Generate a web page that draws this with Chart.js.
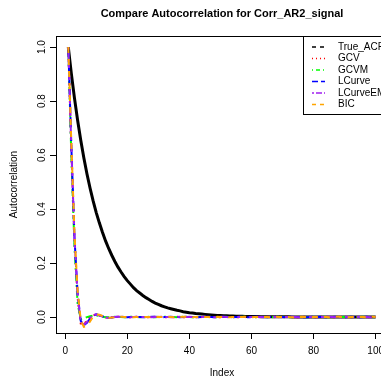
<!DOCTYPE html>
<html lang="en">
<head>
    <meta charset="UTF-8">
    <title>Compare Autocorrelation for Corr_AR2_signal</title>
    <script src="https://cdn.jsdelivr.net/npm/chart.js"></script>
    <style>
        html, body {
            margin: 0;
            padding: 0;
            overflow: hidden;
            background: #fff;
        }
        #acfChart {
            display: block;
        }
    </style>
</head>
<body>
    <canvas id="acfChart" width="395" height="382"></canvas>

    <script>
        // Values
        const lags = [
            1, 2, 3, 4, 5, 6, 7, 8, 9, 10, 11, 12, 13, 14, 15, 16, 17, 18, 19, 20,
            21, 22, 23, 24, 25, 26, 27, 28, 29, 30, 31, 32, 33, 34, 35, 36, 37, 38, 39, 40,
            41, 42, 43, 44, 45, 46, 47, 48, 49, 50, 51, 52, 53, 54, 55, 56, 57, 58, 59, 60,
            61, 62, 63, 64, 65, 66, 67, 68, 69, 70, 71, 72, 73, 74, 75, 76, 77, 78, 79, 80,
            81, 82, 83, 84, 85, 86, 87, 88, 89, 90, 91, 92, 93, 94, 95, 96, 97, 98, 99, 100
        ];

        const trueAcf = [
            1.000, 0.900, 0.810, 0.729, 0.656, 0.590, 0.531, 0.478, 0.430, 0.387,
            0.349, 0.314, 0.282, 0.254, 0.229, 0.206, 0.185, 0.167, 0.150, 0.135,
            0.122, 0.109, 0.098, 0.089, 0.080, 0.072, 0.065, 0.058, 0.052, 0.047,
            0.042, 0.038, 0.034, 0.031, 0.028, 0.025, 0.023, 0.020, 0.018, 0.016,
            0.015, 0.013, 0.012, 0.011, 0.010, 0.009, 0.008, 0.007, 0.006, 0.006,
            0.005, 0.005, 0.004, 0.004, 0.003, 0.003, 0.003, 0.002, 0.002, 0.002,
            0.002, 0.002, 0.001, 0.001, 0.001, 0.001, 0.001, 0.001, 0.001, 0.001,
            0.001, 0.001, 0.000, 0.000, 0.000, 0.000, 0.000, 0.000, 0.000, 0.000,
            0.000, 0.000, 0.000, 0.000, 0.000, 0.000, 0.000, 0.000, 0.000, 0.000,
            0.000, 0.000, 0.000, 0.000, 0.000, 0.000, 0.000, 0.000, 0.000, 0.000
        ];

        const gcv = [
            1.000, 0.612, 0.280, 0.072, -0.024, -0.028, -0.012, 0.001, 0.007, 0.009,
            0.006, 0.002, -0.001, -0.002, -0.001, 0.000, 0.001, 0.001, 0.000, -0.001,
            -0.001, 0.000, 0.001, 0.001, 0.000, 0.000, -0.001, 0.000, 0.001, 0.000,
            0.000, -0.001, -0.001, 0.000, 0.001, 0.001, 0.000, -0.001, 0.000, 0.000,
            0.001, 0.000, -0.001, 0.000, 0.000, 0.001, 0.001, 0.000, -0.001, -0.001,
            0.000, 0.000, 0.001, 0.000, 0.000, -0.001, 0.000, 0.001, 0.000, 0.000,
            0.000, -0.001, 0.000, 0.001, 0.001, 0.000, 0.000, -0.001, 0.000, 0.000,
            0.001, 0.000, 0.000, -0.001, -0.001, 0.000, 0.001, 0.000, 0.000, 0.000,
            -0.001, 0.000, 0.001, 0.001, 0.000, -0.001, 0.000, 0.000, 0.001, 0.000,
            0.000, -0.001, 0.000, 0.000, 0.001, 0.000, -0.001, 0.000, 0.000, 0.000
        ];

        const gcvm = [
            1.000, 0.588, 0.258, 0.050, -0.008, -0.006, 0.000, 0.003, 0.005, 0.006,
            0.004, 0.001, -0.001, -0.001, 0.000, 0.001, 0.000, 0.000, -0.001, 0.000,
            0.001, 0.001, 0.000, -0.001, 0.000, 0.000, 0.001, 0.000, -0.001, 0.000,
            0.000, 0.001, 0.001, 0.000, 0.000, -0.001, 0.000, 0.001, 0.000, 0.000,
            -0.001, -0.001, 0.000, 0.001, 0.000, 0.000, 0.001, 0.000, -0.001, 0.000,
            0.000, 0.001, 0.000, 0.000, -0.001, 0.000, 0.001, 0.001, 0.000, 0.000,
            -0.001, 0.000, 0.000, 0.001, 0.000, -0.001, 0.000, 0.000, 0.001, 0.001,
            0.000, -0.001, 0.000, 0.000, 0.001, 0.000, 0.000, -0.001, 0.000, 0.001,
            0.000, 0.000, 0.001, 0.000, -0.001, -0.001, 0.000, 0.001, 0.000, 0.000,
            0.001, 0.000, -0.001, 0.000, 0.000, 0.001, 0.000, 0.000, -0.001, 0.000
        ];

        const lcurve = [
            1.000, 0.626, 0.294, 0.086, -0.014, -0.030, -0.021, -0.006, 0.005, 0.010,
            0.007, 0.003, -0.001, -0.003, -0.002, 0.000, 0.001, 0.001, 0.000, -0.001,
            0.000, 0.001, 0.000, 0.000, -0.001, -0.001, 0.000, 0.001, 0.001, 0.000,
            -0.001, 0.000, 0.000, 0.001, 0.000, 0.000, -0.001, 0.000, 0.001, 0.000,
            0.000, 0.000, -0.001, 0.000, 0.001, 0.001, 0.000, -0.001, 0.000, 0.000,
            0.001, 0.000, 0.000, -0.001, 0.000, 0.000, 0.001, 0.000, -0.001, 0.000,
            0.001, 0.001, 0.000, 0.000, -0.001, 0.000, 0.000, 0.001, 0.000, 0.000,
            -0.001, 0.000, 0.001, 0.000, 0.000, 0.000, -0.001, -0.001, 0.000, 0.001,
            0.000, 0.001, 0.000, -0.001, 0.000, 0.000, 0.001, 0.000, 0.000, -0.001,
            0.000, 0.001, 0.000, 0.000, -0.001, 0.000, 0.001, 0.000, 0.000, 0.000
        ];

        const lcurveEm = [
            1.000, 0.620, 0.288, 0.081, -0.017, -0.029, -0.018, -0.004, 0.006, 0.010,
            0.006, 0.002, -0.002, -0.003, -0.001, 0.000, 0.001, 0.001, 0.000, 0.000,
            -0.001, 0.000, 0.001, 0.000, 0.000, 0.001, 0.000, -0.001, 0.000, 0.000,
            0.001, 0.000, 0.000, -0.001, -0.001, 0.000, 0.001, 0.000, 0.000, 0.001,
            0.000, -0.001, 0.000, 0.000, 0.001, 0.000, 0.000, -0.001, 0.000, 0.001,
            0.001, 0.000, -0.001, 0.000, 0.000, 0.001, 0.000, 0.000, -0.001, 0.000,
            0.000, 0.001, 0.000, -0.001, 0.000, 0.001, 0.001, 0.000, 0.000, -0.001,
            0.000, 0.000, 0.001, 0.000, -0.001, 0.000, 0.000, 0.001, 0.000, 0.000,
            -0.001, 0.000, 0.000, 0.001, 0.001, 0.000, -0.001, 0.000, 0.000, 0.001,
            0.000, 0.000, -0.001, 0.000, 0.001, 0.000, 0.000, -0.001, 0.000, 0.000
        ];

        const bic = [
            1.000, 0.638, 0.306, 0.098, -0.010, -0.036, -0.034, -0.016, 0.002, 0.010,
            0.009, 0.004, 0.000, -0.003, -0.002, -0.001, 0.001, 0.001, 0.000, 0.000,
            0.000, -0.001, 0.000, 0.001, 0.001, 0.000, 0.000, -0.001, 0.000, 0.001,
            0.000, 0.000, 0.001, 0.000, -0.001, 0.000, 0.000, 0.001, 0.001, 0.000,
            -0.001, 0.000, 0.000, 0.001, 0.000, 0.000, -0.001, 0.000, 0.001, 0.000,
            0.000, -0.001, -0.001, 0.000, 0.001, 0.000, 0.000, 0.001, 0.000, -0.001,
            0.000, 0.000, 0.001, 0.000, 0.000, -0.001, 0.000, 0.001, 0.000, 0.000,
            0.001, 0.000, -0.001, 0.000, 0.000, 0.001, 0.000, 0.000, -0.001, 0.000,
            0.000, 0.001, 0.000, 0.000, -0.001, 0.000, 0.001, 0.001, 0.000, 0.000,
            -0.001, 0.000, 0.000, 0.001, 0.000, 0.000, -0.001, 0.000, 0.001, 0.000
        ];

        const seriesNames = ['True_ACF', 'GCV', 'GCVM', 'LCurve', 'LCurveEM', 'BIC'];
        const xTicks = [0, 20, 40, 60, 80, 100];
        const xTickLabels = ['0', '20', '40', '60', '80', '100'];
        const yTicks = [0, 0.2, 0.4, 0.6, 0.8, 1.0];
        const yTickLabels = ['0.0', '0.2', '0.4', '0.6', '0.8', '1.0'];

        const FONT = '"Liberation Sans", Arial, Helvetica, sans-serif';
        Chart.defaults.font.family = FONT;
        Chart.defaults.color = '#000';

        // line styles: plot dash + legend sample dash
        const styles = [
            { color: '#000000', width: 3, dash: [], legendDash: [4, 4] },
            { color: '#FF0000', width: 2, dash: [2, 4], legendDash: [1, 3] },
            { color: '#00FF00', width: 2, dash: [2, 4, 7, 4], legendDash: [1, 3, 4, 3] },
            { color: '#0000FF', width: 2, dash: [10, 4], legendDash: [6, 3] },
            { color: '#A020F0', width: 2, dash: [3, 3, 9, 3], legendDash: [2, 2, 6, 2] },
            { color: '#FFA500', width: 2, dash: [6, 6], legendDash: [4, 4] }
        ];
        const values = [trueAcf, gcv, gcvm, lcurve, lcurveEm, bic];

        const datasets = values.map((v, i) => ({
            label: seriesNames[i],
            data: v,
            borderColor: styles[i].color,
            borderWidth: styles[i].width,
            borderDash: styles[i].dash,
            pointRadius: 0,
            tension: 0,
            fill: false,
            order: values.length - i
        }));

        // box top line, rotated y labels, R-style legend
        const framePlugin = {
            id: 'frame',
            afterDraw(chart) {
                const { ctx, chartArea: a, scales } = chart;
                ctx.save();
                ctx.strokeStyle = '#000';
                ctx.lineWidth = 1;
                ctx.setLineDash([]);
                ctx.beginPath();
                ctx.moveTo(a.left, Math.round(a.top) + 0.5);
                ctx.lineTo(a.right + 5, Math.round(a.top) + 0.5);
                ctx.stroke();

                ctx.fillStyle = '#000';
                ctx.font = '10px ' + FONT;
                ctx.textAlign = 'center';
                ctx.textBaseline = 'middle';
                yTicks.forEach((v, i) => {
                    const y = scales.y.getPixelForValue(v);
                    ctx.save();
                    ctx.translate(a.left - 14, y);
                    ctx.rotate(-Math.PI / 2);
                    ctx.fillText(yTickLabels[i], 0, 0);
                    ctx.restore();
                });

                // legend box
                const lx = a.right - 85;
                const ly = Math.round(a.top) + 0.5;
                ctx.fillStyle = '#fff';
                ctx.fillRect(lx, ly, 100, 78);
                ctx.strokeRect(Math.round(lx) + 0.5, ly, 100, 78);
                ctx.textAlign = 'left';
                chart.data.datasets.forEach((ds, i) => {
                    const y = ly + 10.5 + i * 11.5;
                    ctx.strokeStyle = ds.borderColor;
                    ctx.lineWidth = 1.5;
                    ctx.setLineDash(styles[i].legendDash);
                    ctx.beginPath();
                    ctx.moveTo(lx + 9, y);
                    ctx.lineTo(lx + 22, y);
                    ctx.stroke();
                    ctx.fillStyle = '#000';
                    ctx.fillText(ds.label, lx + 35, y);
                });
                ctx.restore();
            }
        };

        new Chart(document.getElementById('acfChart'), {
            type: 'line',
            data: { labels: lags, datasets: datasets },
            plugins: [framePlugin],
            options: {
                responsive: false,
                animation: false,
                devicePixelRatio: 1,
                layout: { padding: { left: 0, right: 7, top: 0, bottom: 0 } },
                plugins: {
                    legend: { display: false },
                    tooltip: { enabled: false },
                    title: {
                        display: true,
                        fullSize: false,
                        text: 'Compare Autocorrelation for Corr_AR2_signal',
                        color: '#000',
                        font: { size: 11, weight: 'bold', lineHeight: '13px' },
                        padding: { top: 7, bottom: 16 }
                    }
                },
                scales: {
                    x: {
                        type: 'linear',
                        min: -2.96,
                        max: 103.96,
                        afterFit(scale) { scale.height = 49; },
                        afterBuildTicks(scale) {
                            scale.ticks = xTicks.map(v => ({ value: v }));
                        },
                        ticks: {
                            autoSkip: false,
                            maxRotation: 0,
                            padding: 6,
                            font: { size: 10 },
                            color: '#000',
                            callback: (value, index) => xTickLabels[index]
                        },
                        grid: {
                            drawOnChartArea: false,
                            tickLength: 6,
                            color: '#000'
                        },
                        border: { display: true, color: '#000', width: 1 },
                        title: {
                            display: true,
                            text: 'Index',
                            color: '#000',
                            font: { size: 10 },
                            padding: { top: 0, bottom: 3 }
                        }
                    },
                    y: {
                        min: -0.059,
                        max: 1.041,
                        afterFit(scale) { scale.width = 56; },
                        afterBuildTicks(scale) {
                            scale.ticks = yTicks.map(v => ({ value: v }));
                        },
                        ticks: { display: false },
                        grid: {
                            drawOnChartArea: false,
                            tickLength: 6,
                            color: '#000'
                        },
                        border: { display: true, color: '#000', width: 1 },
                        title: {
                            display: true,
                            text: 'Autocorrelation',
                            color: '#000',
                            font: { size: 10 },
                            padding: { top: 8, bottom: 0 }
                        }
                    }
                }
            }
        });
    </script>
</body>
</html>
